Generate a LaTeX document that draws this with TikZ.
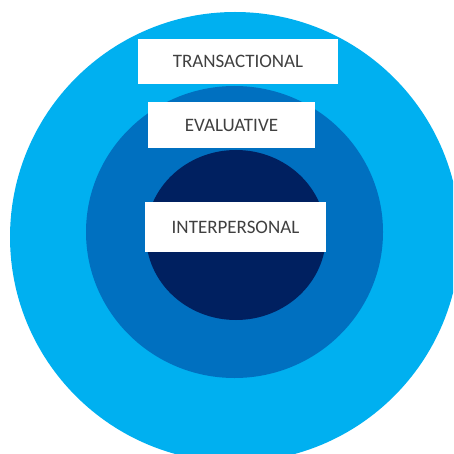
\documentclass[tikz,border=0pt]{standalone}
\usepackage{fontspec}
\setmainfont{Carlito}
\definecolor{ringouter}{HTML}{00B0F0}
\definecolor{ringmiddle}{HTML}{0070C0}
\definecolor{ringinner}{HTML}{002060}
\definecolor{labeltext}{HTML}{404040}
\begin{document}
\begin{tikzpicture}[x=1pt,y=-1pt,
    labelbox/.style={fill=white,inner sep=0pt,align=center,text=labeltext,font=\fontsize{19pt}{19pt}\selectfont}]
            \useasboundingbox (0,0) rectangle (453,454);
            \clip (0,0) rectangle (453,454);
            % outer circle
            \fill [ringouter] (235,237) circle (225);
            % middle circle
            \fill [ringmiddle] (234.5,232) ellipse (148.5 and 146);
            % inner circle
            \fill [ringinner] (236,235) ellipse (90 and 85);
            % top box
            \node [labelbox,minimum width=200,minimum height=45] (transactional) at (238,61.5) {TRANSACTIONAL};
            % middle box
            \node [labelbox,minimum width=167,minimum height=46] (evaluative) at (231.5,125) {EVALUATIVE};
            % inner box
            \node [labelbox,minimum width=181,minimum height=50] (interpersonal) at (235.5,227) {INTERPERSONAL};
         \end{tikzpicture}
\end{document}
